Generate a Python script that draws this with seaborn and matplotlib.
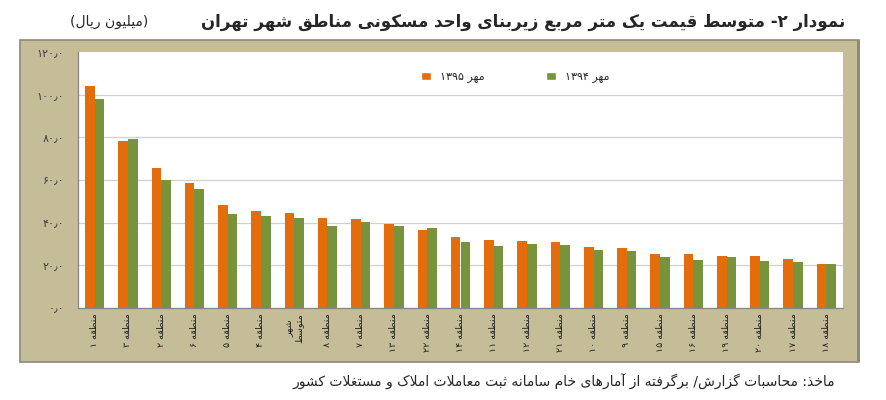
import re
import pandas as pd
import seaborn as sns
import matplotlib
matplotlib.use('Agg')
import matplotlib.pyplot as plt
from matplotlib.patches import Rectangle, Patch

# Data (million rials per m2)
regions = ['منطقه ۱', 'منطقه ۳', 'منطقه ۲', 'منطقه ۶', 'منطقه ۵', 'منطقه ۴',
           'متوسط شهر', 'منطقه ۸', 'منطقه ۷', 'منطقه ۱۳', 'منطقه ۲۲', 'منطقه ۱۴',
           'منطقه ۱۱', 'منطقه ۱۲', 'منطقه ۲۱', 'منطقه ۱۰', 'منطقه ۹', 'منطقه ۱۵',
           'منطقه ۱۶', 'منطقه ۱۹', 'منطقه ۲۰', 'منطقه ۱۷', 'منطقه ۱۸']
mehr_1395 = [104.0, 78.5, 65.4, 58.7, 48.3, 45.3, 44.4, 42.0, 41.6, 39.3, 36.4, 33.3,
             32.1, 31.3, 31.1, 28.6, 28.0, 25.4, 25.4, 24.6, 24.3, 22.9, 20.4]
mehr_1394 = [97.8, 79.3, 60.0, 55.9, 44.2, 43.1, 42.0, 38.5, 40.3, 38.5, 37.4, 31.1,
             29.0, 29.9, 29.6, 27.4, 26.6, 23.8, 22.6, 24.0, 22.1, 21.5, 20.7]
series_names = ['مهر ۱۳۹۵', 'مهر ۱۳۹۴']
y_ticks = [0, 20, 40, 60, 80, 100, 120]

title = 'نمودار ۲- متوسط قیمت یک متر مربع زیربنای واحد مسکونی مناطق شهر تهران'
unit = '(میلیون ریال)'
source = 'ماخذ: محاسبات گزارش/ برگرفته از آمارهای خام سامانه ثبت معاملات املاک و مستغلات کشور'

# --- minimal Persian shaping + visual reordering (matplotlib has no bidi) ---
# (isolated, final, initial, medial)
FORMS = {
    'ا': ('\uFE8D', '\uFE8E', None, None), 'آ': ('\uFE81', '\uFE82', None, None),
    'ب': ('\uFE8F', '\uFE90', '\uFE91', '\uFE92'), 'پ': ('\uFB56', '\uFB57', '\uFB58', '\uFB59'),
    'ت': ('\uFE95', '\uFE96', '\uFE97', '\uFE98'), 'ث': ('\uFE99', '\uFE9A', '\uFE9B', '\uFE9C'),
    'ج': ('\uFE9D', '\uFE9E', '\uFE9F', '\uFEA0'), 'چ': ('\uFB7A', '\uFB7B', '\uFB7C', '\uFB7D'),
    'ح': ('\uFEA1', '\uFEA2', '\uFEA3', '\uFEA4'), 'خ': ('\uFEA5', '\uFEA6', '\uFEA7', '\uFEA8'),
    'د': ('\uFEA9', '\uFEAA', None, None), 'ذ': ('\uFEAB', '\uFEAC', None, None),
    'ر': ('\uFEAD', '\uFEAE', None, None), 'ز': ('\uFEAF', '\uFEB0', None, None),
    'ژ': ('\uFB8A', '\uFB8B', None, None),
    'س': ('\uFEB1', '\uFEB2', '\uFEB3', '\uFEB4'), 'ش': ('\uFEB5', '\uFEB6', '\uFEB7', '\uFEB8'),
    'ص': ('\uFEB9', '\uFEBA', '\uFEBB', '\uFEBC'), 'ض': ('\uFEBD', '\uFEBE', '\uFEBF', '\uFEC0'),
    'ط': ('\uFEC1', '\uFEC2', '\uFEC3', '\uFEC4'), 'ظ': ('\uFEC5', '\uFEC6', '\uFEC7', '\uFEC8'),
    'ع': ('\uFEC9', '\uFECA', '\uFECB', '\uFECC'), 'غ': ('\uFECD', '\uFECE', '\uFECF', '\uFED0'),
    'ف': ('\uFED1', '\uFED2', '\uFED3', '\uFED4'), 'ق': ('\uFED5', '\uFED6', '\uFED7', '\uFED8'),
    'ک': ('\uFB8E', '\uFB8F', '\uFB90', '\uFB91'), 'گ': ('\uFB92', '\uFB93', '\uFB94', '\uFB95'),
    'ل': ('\uFEDD', '\uFEDE', '\uFEDF', '\uFEE0'), 'م': ('\uFEE1', '\uFEE2', '\uFEE3', '\uFEE4'),
    'ن': ('\uFEE5', '\uFEE6', '\uFEE7', '\uFEE8'), 'ه': ('\uFEE9', '\uFEEA', '\uFEEB', '\uFEEC'),
    'و': ('\uFEED', '\uFEEE', None, None), 'ی': ('\uFBFC', '\uFBFD', '\uFBFE', '\uFBFF'),
}
LAM_ALEF = {'ا': ('\uFEFB', '\uFEFC'), 'آ': ('\uFEF5', '\uFEF6')}


def fa(text):
    out = []
    i = 0
    prev_joins = False
    while i < len(text):
        ch = text[i]
        nxt = text[i + 1] if i + 1 < len(text) else ''
        if ch not in FORMS:
            out.append(ch)
            prev_joins = False
            i += 1
            continue
        if ch == 'ل' and nxt in LAM_ALEF:
            out.append(LAM_ALEF[nxt][1 if prev_joins else 0])
            prev_joins = False
            i += 2
            continue
        f = FORMS[ch]
        next_joins = f[2] is not None and nxt in FORMS
        if prev_joins and next_joins:
            g = f[3]
        elif prev_joins:
            g = f[1]
        elif next_joins:
            g = f[2]
        else:
            g = f[0]
        out.append(g)
        prev_joins = f[2] is not None
        i += 1
    vis = ''.join(out)[::-1]
    vis = vis.translate(str.maketrans('()', ')('))
    vis = re.sub(r'[0-9۰-۹٫]+', lambda m: m.group(0)[::-1], vis)
    return vis


def fa_tick(text):
    # long labels wrap onto two lines like the original
    words = text.split(' ')
    if not words[-1][0].isdigit():
        return fa(words[-1]) + '\n' + fa(' '.join(words[:-1]))
    return fa(text)


def fa_num(v):
    return '{:.1f}'.format(v).replace('.', '٫').translate(str.maketrans('0123456789', '۰۱۲۳۴۵۶۷۸۹'))


orange = '#E46C0A'
green = '#77933C'
tan = '#C4BD97'

sns.set_style('white')
plt.rcParams['font.family'] = ['DejaVu Sans']

x_labels = [fa(r) for r in regions]
df = pd.DataFrame({
    'region': x_labels * 2,
    'series': [series_names[0]] * len(regions) + [series_names[1]] * len(regions),
    'value': mehr_1395 + mehr_1394,
})

W, H = 886, 400
fig = plt.figure(figsize=(W / 100, H / 100), dpi=100, facecolor='white')

# tan chart frame with darker edge
fig.patches.append(Rectangle((20 / W, 1 - 362 / H), (859 - 20) / W, (362 - 40) / H,
                             transform=fig.transFigure, facecolor=tan,
                             edgecolor='#8E8A78', linewidth=1.2, zorder=-2))
fig.patches.append(Rectangle((857 / W, 1 - 362 / H), 2.5 / W, (362 - 41) / H,
                             transform=fig.transFigure, facecolor='#8E8A78',
                             edgecolor='none', zorder=-1))

ax = fig.add_axes([78 / W, 1 - 308 / H, (843 - 78) / W, (308 - 52) / H])
ax.set_facecolor('white')

sns.barplot(data=df, x='region', y='value', hue='series', order=x_labels,
            hue_order=series_names, palette=[orange, green], width=0.58, gap=0,
            saturation=1, linewidth=0, legend=False, ax=ax)

ax.set_ylim(0, 120)
ax.set_xlim(-0.5, len(regions) - 0.5)
ax.set_yticks(y_ticks)
ax.set_yticklabels([fa_num(v) for v in y_ticks], fontsize=8, color='#404040')
ax.set_xlabel('')
ax.set_ylabel('')
ax.tick_params(axis='x', which='major', length=0, pad=4, labelsize=6.8, labelcolor='#202020')
ax.set_xticks(range(len(regions)))
ax.set_xticklabels([fa_tick(r) for r in regions], rotation=90, va='top', ha='center',
                   multialignment='center', linespacing=1.0)
ax.set_xticks([k - 0.5 for k in range(len(regions) + 1)], minor=True)
ax.tick_params(axis='x', which='minor', length=3, color='#868686', direction='out')
ax.tick_params(axis='y', length=4, color='#868686', direction='out', pad=6)

ax.yaxis.grid(True, color='#D0D0D0', linewidth=0.9)
ax.set_axisbelow(True)
ax.yaxis.get_gridlines()[-1].set_visible(False)
for s in ['top', 'right']:
    ax.spines[s].set_visible(False)
for s in ['left', 'bottom']:
    ax.spines[s].set_color('#868686')
    ax.spines[s].set_linewidth(0.9)

handles = [Patch(facecolor=orange), Patch(facecolor=green)]
fig.legend(handles, [fa(n) for n in series_names], loc='center',
           bbox_to_anchor=(515 / W, 1 - 77 / H), ncol=2, frameon=False,
           fontsize=8, handlelength=0.9, handleheight=0.7, handletextpad=0.8,
           columnspacing=5.5)

fig.text(845 / W, 1 - 22 / H, fa(title), ha='right', va='center',
         fontsize=12, fontweight='bold')
fig.text(148 / W, 1 - 22 / H, fa(unit), ha='right', va='center', fontsize=10)
fig.text(835 / W, 1 - 382 / H, fa(source), ha='right', va='center', fontsize=10)

fig.savefig('out.png', dpi=100, facecolor='white')
